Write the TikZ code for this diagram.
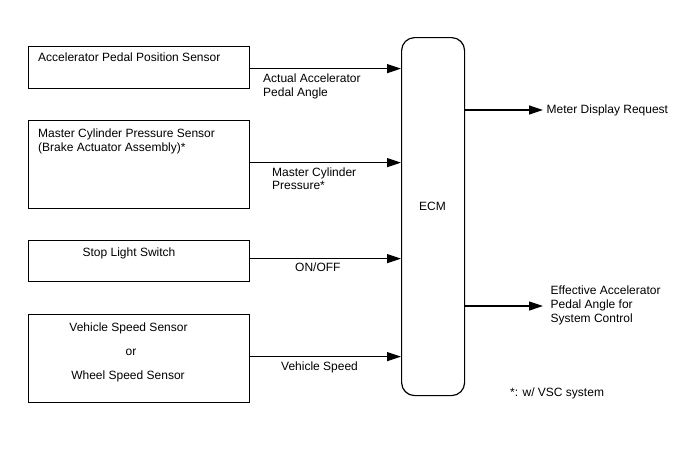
\documentclass[tikz,border=0pt]{standalone}
\usepackage{fontspec}
\setmainfont{Liberation Sans}
\usetikzlibrary{arrows.meta}
\begin{document}
\begin{tikzpicture}[x=1pt,y=-1pt,
  box/.style={draw,line width=1.2pt,inner sep=0pt,anchor=north west},
  txt/.style={inner sep=0pt,font=\fontsize{12}{14}\selectfont},
  lft/.style={txt,anchor=base west},
  ctr/.style={txt,anchor=base},
  arr/.style={line width=1.2pt,-{Triangle[length=14pt,width=9pt]}}]
\useasboundingbox[fill=white] (0,0) rectangle (688,463);
% boxes
\node[box,minimum width=221pt,minimum height=42pt] (b1) at (28,46) {};
\node[box,minimum width=221pt,minimum height=88pt] (b2) at (28,120) {};
\node[box,minimum width=221pt,minimum height=41pt] (b3) at (28,240) {};
\node[box,minimum width=221pt,minimum height=88pt] (b4) at (28,314) {};
\node[box,rounded corners=13pt,minimum width=63pt,minimum height=358pt] (ecm) at (401,37) {};
% box texts
\node[lft] (t1) at (38,61.5) {Accelerator Pedal Position Sensor};
\node[lft] (t2a) at (38,137.5) {Master Cylinder Pressure Sensor};
\node[lft] (t2b) at (38,151) {(Brake Actuator Assembly)*};
\node[ctr] (t3) at (129,256) {Stop Light Switch};
\node[ctr] (t4a) at (128.5,331.5) {Vehicle Speed Sensor};
\node[ctr] (t4b) at (131,355) {or};
\node[ctr] (t4c) at (128,379) {Wheel Speed Sensor};
\node[txt] (tecm) at (432.5,206) {ECM};
% connectors
\coordinate (o1) at (543,110);
\coordinate (o2) at (543,306);
\draw[arr] ([yshift=-1pt]b1.east) -- ([yshift=-1pt]b1.east -| ecm.west);
\draw[arr] ([yshift=2pt]b2.east) -- ([yshift=2pt]b2.east -| ecm.west);
\draw[arr] ([yshift=2.5pt]b3.east) -- ([yshift=2.5pt]b3.east -| ecm.west);
\draw[arr] ([yshift=2pt]b4.east) -- ([yshift=2pt]b4.east -| ecm.west);
\draw[arr] (ecm.east |- o1) -- (o1);
\draw[arr] (ecm.east |- o2) -- (o2);
% connector labels
\node[lft] (l1a) at (263,82) {Actual Accelerator};
\node[lft] (l1b) at (263,96) {Pedal Angle};
\node[lft] (l2a) at (272,176) {Master Cylinder};
\node[lft] (l2b) at (272,189.5) {Pressure*};
\node[lft] (l3) at (295,271.5) {ON/OFF};
\node[lft] (l4) at (281,370) {Vehicle Speed};
\node[lft] (lo1) at (546.5,113.5) {Meter Display Request};
\node[lft] (lo2a) at (550.5,294) {Effective Accelerator};
\node[lft] (lo2b) at (550.5,308) {Pedal Angle for};
\node[lft] (lo2c) at (550.5,322) {System Control};
\node[lft] (note) at (510,396) {*: w/ VSC system};
\end{tikzpicture}
\end{document}
